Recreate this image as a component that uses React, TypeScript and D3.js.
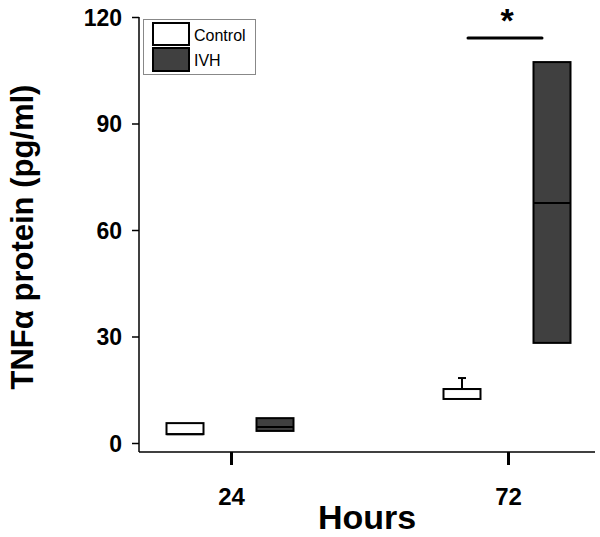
import React, { useEffect, useRef } from 'react';
import * as d3 from 'd3';

// chart data
const hours = ['24', '72'];
const groups = ['Control', 'IVH'];
const groupColors = ['#ffffff', '#404040'];
// box stats per hour, per group: [q1, median, q3]
const controlBoxes = [[2.5, 2.5, 5.6], [12.4, 15.2, 15.2]];
const ivhBoxes = [[3.4, 4.5, 7.0], [28.2, 67.6, 107.3]];
const controlWhiskerTop = [null, 18.3];
const yTicks = [0, 30, 60, 90, 120];

const W = 600, H = 537;
const FONT = 'Arial, "Liberation Sans", sans-serif';

export default function App() {
  const yAxisRef = useRef<SVGGElement>(null);
  const xAxisRef = useRef<SVGGElement>(null);

  const y = d3.scaleLinear().domain([0, 120]).range([443, 17]);
  const x = d3.scalePoint().domain(hours).range([231, 508]);
  const sub = d3.scalePoint().domain(groups).range([-46, 44]);
  const boxW = 37;

  useEffect(() => {
    // y axis
    const ya = d3.select(yAxisRef.current);
    ya.selectAll('*').remove();
    ya.call(d3.axisLeft(y).tickValues(yTicks).tickSize(7).tickPadding(10).tickSizeOuter(0) as any);
    ya.select('.domain').remove();
    ya.selectAll('.tick line').attr('stroke', '#000').attr('stroke-width', 1.5);
    ya.selectAll('.tick text')
      .attr('font-family', FONT)
      .attr('font-weight', 'bold')
      .attr('font-size', 23)
      .attr('dy', '0.36em')
      .attr('fill', '#000');

    // x axis
    const xa = d3.select(xAxisRef.current);
    xa.selectAll('*').remove();
    xa.call(d3.axisBottom(x).tickSize(13).tickPadding(23).tickSizeOuter(0) as any);
    xa.select('.domain').remove();
    xa.selectAll('.tick line').attr('stroke', '#000').attr('stroke-width', 3);
    xa.selectAll('.tick text')
      .attr('font-family', FONT)
      .attr('font-weight', 'bold')
      .attr('font-size', 24)
      .attr('fill', '#000');
  }, []);

  const allBoxes = [controlBoxes, ivhBoxes];

  return (
    <svg width={W} height={H} style={{ position: 'absolute', left: 0, top: 0 }}>
      <rect width={W} height={H} fill="#fff" />
      <g ref={yAxisRef} transform="translate(139,0)" />
      <g ref={xAxisRef} transform="translate(0,452)" />
      {/* axis lines */}
      <line x1={139} x2={139} y1={17} y2={452} stroke="#000" strokeWidth={1.5} />
      <line x1={139} x2={595} y1={452} y2={452} stroke="#000" strokeWidth={1.5} />

      {/* whiskers */}
      {controlWhiskerTop.map((v, i) => {
        if (v == null) return null;
        const cx = (x(hours[i]) as number) + (sub('Control') as number);
        return (
          <g key={'w' + i}>
            <line x1={cx} x2={cx} y1={y(controlBoxes[i][2])} y2={y(v)} stroke="#000" strokeWidth={2} />
            <line x1={cx - 4} x2={cx + 4} y1={y(v)} y2={y(v)} stroke="#000" strokeWidth={2} />
          </g>
        );
      })}

      {/* boxes */}
      {allBoxes.map((set, gi) =>
        set.map((b, hi) => {
          const cx = (x(hours[hi]) as number) + (sub(groups[gi]) as number);
          const [q1, med, q3] = b;
          return (
            <g key={gi + '-' + hi}>
              <rect x={cx - boxW / 2} y={y(q3)} width={boxW} height={y(q1) - y(q3)}
                fill={groupColors[gi]} stroke="#000" strokeWidth={2} />
              <line x1={cx - boxW / 2} x2={cx + boxW / 2} y1={y(med)} y2={y(med)} stroke="#000" strokeWidth={2} />
            </g>
          );
        })
      )}

      {/* significance */}
      <line x1={468} x2={542} y1={38} y2={38} stroke="#000" strokeWidth={3} strokeLinecap="round" />
      <text x={507} y={32} textAnchor="middle" fontFamily={FONT} fontWeight="bold" fontSize={34}>*</text>

      {/* legend */}
      <rect x={143.5} y={19.5} width={112} height={55} fill="#fff" stroke="#888" strokeWidth={1} />
      {groups.map((g, i) => (
        <g key={g} transform={`translate(153,${23 + i * 25})`}>
          <rect x={0} y={0} width={36} height={22 + i} fill={groupColors[i]} stroke="#000" strokeWidth={2} />
          <text x={41} y={18} fontFamily={FONT} fontSize={16}>{g}</text>
        </g>
      ))}

      {/* axis titles */}
      <text transform="translate(33,237) rotate(-90)" textAnchor="middle"
        fontFamily={FONT} fontWeight="bold" fontSize={31}>
        TNFα protein (pg/ml)
      </text>
      <text x={367} y={529} textAnchor="middle" fontFamily={FONT} fontWeight="bold" fontSize={34}>Hours</text>
    </svg>
  );
}
